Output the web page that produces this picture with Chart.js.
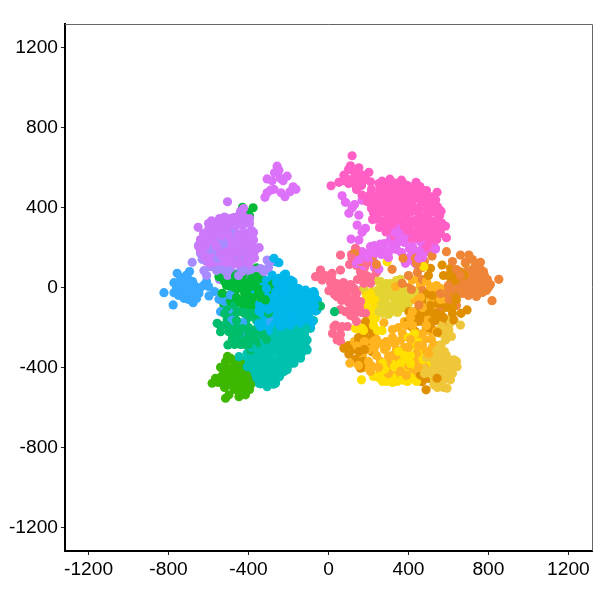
<!DOCTYPE html>
<html>
<head>
<meta charset="utf-8">
<script src="https://cdn.jsdelivr.net/npm/chart.js@4/dist/chart.umd.min.js"></script>
<style>
    body { margin: 0; background: #fff; }
    canvas { display: block; }
</style>
</head>
<body>
<canvas id="tsne" width="600" height="600"></canvas>
<script>
const tickValues = [-1200, -800, -400, 0, 400, 800, 1200];

// clusters as [x, y]
const bluePurple = [[-682,126],[-632,141],[-623,84],[-590,104],[-523,87],[-473,129],[-440,87],[-307,137],[-323,79],[-290,130],[-640,190],[-600,200],[-565,230],[-530,250],[-495,230],[-580,170],[-540,190],[-510,170],[-470,190],[-600,140],[-555,145],[-505,130],[-450,150],[-560,265],[-525,215],[-480,270],[-420,100],[-555,100],[-490,100],[-505,60],[-610,60],[-545,40],[-450,60],[-640,170],[-650,210],[-620,160],[-590,190],[-560,215],[-530,225],[-500,200],[-550,175],[-520,160],[-480,175],[-470,215],[-560,85],[-530,110],[-500,95],[-470,70],[-430,80],[-400,65],[-370,85],[-340,95],[-300,100]];
const violet = [[-585,334],[-545,345],[-520,352],[-475,350],[-440,380],[-425,395],[-410,350],[-455,330],[-500,325],[-540,315],[-570,300],[-600,290],[-620,255],[-640,230],[-650,205],[-610,225],[-580,260],[-545,280],[-510,290],[-470,300],[-430,310],[-395,320],[-385,285],[-375,275],[-415,270],[-450,265],[-485,255],[-520,245],[-560,205],[-600,180],[-630,170],[-590,150],[-540,170],[-495,210],[-455,225],[-420,235],[-385,240],[-395,205],[-430,190],[-465,180],[-500,160],[-540,135],[-465,140],[-430,150],[-395,165],[-370,180],[-385,140],[-420,125],[-470,120],[-520,105],[-560,120],[-610,130],[-652,301],[-505,429],[-347,199],[-398,101],[-500,260],[-440,215],[-410,180],[-600,320],[-565,325],[-530,330],[-495,345],[-455,355],[-425,355],[-395,345],[-430,335],[-465,322],[-510,305],[-625,270],[-595,272],[-565,268],[-535,265],[-505,272],[-475,275],[-440,268],[-405,272],[-380,265],[-640,240],[-605,245],[-575,238],[-545,242],[-510,238],[-475,245],[-445,240],[-410,242],[-375,238],[-645,212],[-615,208],[-585,214],[-550,210],[-515,205],[-480,212],[-450,208],[-415,214],[-380,208],[-640,182],[-610,178],[-575,185],[-545,180],[-515,176],[-480,184],[-445,178],[-415,182],[-385,176],[-620,150],[-585,155],[-555,148],[-525,152],[-490,146],[-455,155],[-425,148],[-400,152],[-370,148],[-590,122],[-550,118],[-510,125],[-445,118],[-400,122]];
const orchid = [[-257,607],[-270,574],[-248,587],[-307,543],[-282,534],[-240,546],[-207,557],[-227,534],[-290,487],[-307,474],[-273,491],[-318,451],[-237,474],[-218,454],[-193,479],[-177,504],[-163,491]];
const blue = [[-757,71],[-710,62],[-695,80],[-773,24],[-740,21],[-715,29],[-673,12],[-623,12],[-823,-26],[-773,-26],[-732,-29],[-690,-37],[-677,-76],[-723,-54],[-777,-87],[-648,-29],[-598,-42],[-548,-59],[-540,-121],[-610,30],[-710,-5],[-750,-10],[-680,-10],[-473,-109],[-490,-37],[-482,-163],[-348,12],[-365,-246],[-440,-225],[-290,-170],[-500,-110],[-400,-60],[-430,-175],[-740,50],[-700,40],[-680,30],[-760,0],[-725,0],[-700,-30],[-660,-55],[-700,-60],[-640,0],[-600,5],[-570,-20],[-750,-40],[-520,-70]];
const skyBlue = [[-282,62],[-215,67],[-177,29],[-248,46],[-115,-13],[-157,-38],[-65,-54],[-57,-112],[-90,-87],[-123,-79],[-173,-79],[-223,-29],[-257,-13],[-323,-29],[-365,-29],[-290,-79],[-240,-87],[-190,-129],[-148,-154],[-115,-146],[-82,-171],[-90,-196],[-265,-129],[-307,-163],[-340,-196],[-273,-188],[-232,-154],[-390,-221],[-190,-188],[-323,-129],[-265,129],[-248,124],[-273,146],[-223,62],[-190,37],[-290,0],[-260,25],[-210,10],[-170,-10],[-130,-40],[-205,-60],[-155,-110],[-225,-120],[-260,-60],[-300,-110],[-345,-85],[-200,-155],[-160,-190],[-240,-195],[-300,-215],[-120,-115],[-95,-45],[-75,-20],[-310,35],[-330,30],[-295,28],[-255,35],[-225,30],[-190,5],[-340,0],[-310,-5],[-270,2],[-240,-5],[-205,-8],[-175,5],[-150,-5],[-345,-30],[-300,-32],[-265,-28],[-230,-35],[-195,-30],[-160,-28],[-130,-22],[-100,-35],[-70,-30],[-330,-62],[-290,-55],[-250,-62],[-215,-58],[-180,-65],[-145,-60],[-110,-62],[-75,-58],[-55,-65],[-340,-92],[-310,-88],[-270,-95],[-225,-88],[-195,-92],[-160,-85],[-135,-95],[-105,-90],[-70,-92],[-350,-118],[-300,-125],[-270,-118],[-235,-122],[-205,-115],[-170,-125],[-135,-120],[-100,-125],[-65,-118],[-330,-152],[-290,-148],[-255,-155],[-215,-150],[-175,-155],[-130,-148],[-95,-152],[-350,-180],[-315,-178],[-280,-185],[-240,-178],[-205,-182],[-170,-178],[-125,-182]];
const green = [[-548,54],[-460,62],[-415,54],[-473,29],[-415,21],[-382,12],[-440,-4],[-398,-21],[-357,-4],[-282,12],[-307,-4],[-273,-29],[-315,-62],[-532,-29],[-490,4],[-523,-87],[-448,-71],[-390,-96],[-373,-129],[-360,98],[-465,57],[-410,51],[-332,46],[-430,401],[-377,399],[-395,359],[-405,375],[-510,10],[-450,25],[-420,-25],[-380,-50],[-340,15],[-385,45],[-440,35],[-470,-30],[-405,0],[-365,30],[-420,-50],[-520,30],[-490,35],[-470,0],[-440,10],[-410,-30],[-385,-15],[-350,-30],[-330,-10],[-300,30],[-500,-40],[-460,-50],[-430,-80],[-400,-70],[-365,-85],[-340,-50],[-490,-70],[-450,45],[-395,30],[-430,60],[-360,55]];
const teal = [[-557,-179],[-540,-221],[-498,-221],[-482,-262],[-503,-287],[-440,-254],[-390,-312],[-357,-204],[-332,-229],[-415,-179],[-507,-162],[-465,-129],[-390,-129],[-415,-96],[-507,-96],[-332,-96],[-457,-204],[-390,-246],[-282,-312],[-340,-312],[-40,-93],[30,-121],[-173,-129],[-420,-285],[-460,-165],[-360,-165],[-420,-130],[-540,-60],[-310,-260],[-350,-270],[-415,-230],[-470,-285],[-540,-190],[-510,-190],[-480,-200],[-450,-180],[-430,-205],[-400,-200],[-370,-230],[-480,-240],[-445,-225],[-410,-265],[-375,-255],[-440,-285],[-400,-285],[-360,-300],[-320,-260],[-500,-130],[-470,-90],[-440,-120],[-400,-150],[-350,-130],[-300,-130],[-520,-130]];
const turquoise = [[-90,-162],[-75,-165],[-90,-204],[-107,-263],[-107,-312],[-140,-354],[-173,-379],[-207,-412],[-265,-479],[-307,-496],[-348,-479],[-373,-446],[-407,-396],[-448,-346],[-407,-329],[-357,-346],[-307,-362],[-257,-379],[-323,-412],[-273,-429],[-315,-454],[-232,-346],[-190,-329],[-157,-296],[-140,-254],[-165,-212],[-207,-229],[-240,-279],[-282,-271],[-323,-287],[-373,-287],[-198,-287],[-290,-321],[-123,-229],[-173,-263],[-215,-179],[-257,-212],[-307,-237],[-230,-400],[-290,-440],[-350,-420],[-385,-370],[-340,-380],[-275,-390],[-215,-365],[-180,-340],[-250,-320],[-215,-250],[-350,-320],[-320,-480],[-285,-465],[-245,-445],[-150,-320],[-125,-285],[-260,-250],[-340,-250],[-385,-300],[-240,-212],[-200,-208],[-150,-214],[-110,-206],[-330,-242],[-290,-238],[-250,-244],[-205,-238],[-170,-242],[-120,-236],[-360,-272],[-320,-268],[-290,-274],[-250,-268],[-210,-272],[-170,-268],[-130,-274],[-390,-302],[-350,-298],[-310,-304],[-270,-298],[-230,-302],[-190,-298],[-150,-304],[-115,-298],[-400,-332],[-365,-328],[-325,-334],[-285,-328],[-245,-332],[-205,-328],[-165,-334],[-135,-328],[-410,-362],[-375,-358],[-335,-364],[-295,-358],[-255,-362],[-215,-358],[-175,-364],[-395,-392],[-355,-388],[-315,-394],[-280,-388],[-240,-392],[-200,-388],[-380,-422],[-340,-418],[-300,-424],[-260,-418],[-225,-422],[-360,-452],[-320,-448],[-280,-454],[-250,-448],[-340,-482],[-300,-478],[-275,-484]];
const olive = [[-490,-354],[-515,-371],[-540,-399],[-498,-404],[-415,-401],[-457,-412],[-482,-437],[-565,-454],[-582,-479],[-532,-471],[-498,-487],[-465,-496],[-423,-462],[-390,-487],[-407,-512],[-448,-546],[-415,-537],[-515,-554],[-498,-537],[-382,-462],[-440,-504],[-470,-375],[-450,-440],[-510,-440],[-410,-470],[-480,-470],[-505,-345],[-435,-530],[-395,-510],[-540,-450],[-525,-420],[-470,-410],[-440,-420],[-500,-460],[-450,-475],[-470,-510],[-430,-490],[-410,-440],[-520,-500],[-550,-475],[-400,-460],[-440,-380],[-520,-400]];
const salmon = [[60,162],[118,146],[135,196],[60,87],[18,71],[-40,87],[168,87],[10,24],[60,-4],[102,-12],[127,-4],[160,79],[177,21],[210,21],[43,-46],[85,-37],[143,-79],[85,-121],[35,-188],[68,-196],[127,-146],[185,-129],[43,-262],[135,-46],[160,-70],[-32,37],[-65,54],[-40,79],[2,-16],[27,-196],[105,-55],[60,-30],[30,-10],[110,15],[140,110],[165,60],[110,-110],[140,-120],[95,-195],[60,-270],[210,50],[240,75],[15,45],[40,20],[75,25],[85,0],[30,-35],[65,-65],[100,-75],[130,-90],[155,-100],[60,-110],[110,-140],[140,-170],[60,-200],[20,-230],[60,-235],[190,60],[145,40],[180,100],[140,-30],[170,-10],[150,150],[115,165],[190,120],[105,115],[-15,60],[165,-125]];
const hotPink = [[118,659],[110,609],[152,599],[202,576],[77,562],[52,526],[13,509],[127,546],[168,562],[135,512],[177,537],[210,529],[168,462],[268,532],[307,542],[365,537],[438,526],[468,487],[543,476],[510,454],[563,382],[585,307],[590,249],[535,196],[193,430],[215,395],[230,455],[245,360],[260,500],[270,420],[285,465],[295,385],[305,510],[320,440],[330,350],[340,480],[350,405],[365,505],[375,455],[385,365],[395,510],[405,425],[415,480],[425,325],[430,390],[445,450],[455,350],[465,415],[480,300],[490,455],[500,375],[510,330],[520,420],[530,270],[540,390],[445,280],[395,290],[350,310],[300,320],[255,300],[220,340],[545,340],[555,300],[500,250],[470,260],[420,240],[490,200],[440,510],[395,470],[345,440],[290,430],[250,400],[385,400],[100,590],[150,540],[252,520],[292,512],[333,522],[382,515],[422,498],[457,505],[215,490],[258,482],[300,495],[342,500],[376,488],[410,492],[452,478],[490,485],[205,462],[246,455],[285,448],[325,465],[360,458],[402,452],[440,468],[478,462],[522,452],[207,430],[236,426],[272,438],[310,425],[352,435],[390,428],[426,440],[466,432],[500,428],[536,438],[217,402],[250,410],[286,398],[322,405],[357,395],[396,408],[432,398],[470,402],[512,408],[547,402],[226,372],[266,378],[302,365],[340,375],[376,368],[412,378],[450,372],[492,365],[526,378],[556,360],[242,342],[281,335],[316,345],[356,338],[391,345],[426,335],[466,342],[506,338],[536,320],[272,312],[306,305],[342,318],[376,308],[416,315],[452,305],[491,312],[526,300],[566,322],[288,278],[326,285],[402,282],[441,275],[480,285],[516,272],[552,268],[332,252],[372,258],[411,250],[456,248],[502,232],[541,240],[560,275],[90,545],[130,575],[100,520],[140,490],[165,510],[185,560],[75,535]];
const magenta = [[68,459],[85,426],[118,399],[102,371],[168,437],[152,362],[143,312],[185,296],[168,276],[113,242],[152,237],[318,262],[360,296],[393,246],[460,229],[510,212],[535,192],[260,217],[210,204],[168,179],[152,137],[235,171],[318,196],[393,146],[452,146],[252,92],[385,121],[443,112],[345,225],[405,195],[440,175],[285,180],[195,150],[130,415],[470,195],[365,175],[335,275],[425,245],[230,210],[495,180],[205,175],[300,150],[430,125],[250,200],[280,220],[310,240],[345,260],[380,225],[420,205],[455,180],[490,215],[525,215],[300,175],[340,190],[375,145],[415,160],[470,150],[200,130],[175,110],[225,130],[265,165],[140,120],[170,150],[230,100],[360,255],[320,225],[395,270],[435,250]];
const orange = [[852,41],[818,-66],[760,126],[745,95],[660,60],[690,80],[730,70],[780,60],[810,15],[675,20],[690,-15],[750,-10],[720,15],[785,25],[760,40],[700,40],[645,-5],[725,-25],[790,-15],[590,179],[660,162],[702,162],[518,157],[443,179],[435,146],[373,146],[685,126],[435,-21],[452,-88],[602,-12],[610,-79],[627,-38],[368,21],[318,91],[445,75],[470,40],[160,130],[130,170],[220,155],[175,55],[240,115],[400,60],[665,30],[680,50],[700,20],[715,45],[735,30],[750,55],[770,35],[795,40],[710,-10],[735,-5],[760,10],[775,-5],[680,0],[650,20],[670,-30],[700,-40],[740,-45],[770,-25],[800,0],[720,90],[760,90],[735,110],[775,80],[700,70],[745,75],[600,60],[640,90],[620,130],[720,140],[480,130],[440,120],[470,100],[435,-50],[470,-15],[560,-30],[590,-50],[640,-90],[400,0],[415,-10],[600,10],[560,-95]];
const darkOrange = [[510,96],[568,112],[610,96],[685,121],[677,62],[635,37],[600,-30],[693,-112],[663,-129],[627,-162],[402,-121],[468,-71],[493,-29],[527,-129],[577,-62],[435,-221],[185,-171],[218,-221],[177,-237],[127,-279],[77,-304],[102,-334],[160,-404],[218,-321],[152,-321],[460,-438],[468,-471],[488,-512],[543,-454],[427,-163],[480,-140],[560,-110],[620,-130],[515,-205],[450,-110],[530,-60],[590,-100],[610,20],[585,-185],[540,-165],[575,-150],[150,-280],[195,-290],[630,50],[575,60],[500,60],[480,-175],[480,-40],[510,-90],[550,-80],[470,-100],[440,-140],[500,-120],[540,-130],[565,-140],[600,-70],[620,-100],[520,-170],[490,-200],[450,-170],[420,-200],[460,-70],[400,-170],[560,-35],[640,-60],[650,-20],[655,80],[620,75],[600,60],[200,-260],[165,-295],[120,-310],[180,-310],[135,-360],[175,-370],[230,-250],[195,-205],[150,-250],[100,-290],[440,-260],[520,-40],[480,-120],[470,-450],[500,-455],[545,-225]];
const gold = [[107,-379],[143,-293],[277,-176],[460,12],[510,4],[560,-4],[585,-71],[515,-71],[335,4],[418,37],[320,-210],[370,-230],[410,-260],[470,-230],[515,-260],[540,-290],[500,-330],[440,-330],[380,-300],[330,-280],[280,-310],[240,-340],[200,-370],[170,-340],[250,-400],[300,-380],[350,-350],[400,-390],[450,-290],[490,-190],[480,-400],[420,-430],[360,-420],[300,-430],[390,-190],[460,-340],[225,-270],[360,-265],[420,-120],[530,-25],[470,-100],[200,-310],[230,-300],[260,-280],[290,-270],[320,-250],[350,-200],[380,-170],[420,-190],[440,-230],[480,-260],[510,-220],[400,-300],[430,-370],[380,-330],[340,-310],[300,-345],[260,-370],[220,-395],[180,-400],[150,-390],[210,-420],[250,-440],[340,-430],[390,-440],[450,-400],[490,-320],[520,-300],[470,-290],[540,-220],[500,-160],[510,-50],[460,-50],[540,-20],[490,30],[450,40],[540,10],[430,-60],[590,-30],[550,-100],[560,-60],[410,-150],[320,-340],[290,-300],[240,-260],[180,-270],[130,-270]];
const yellow = [[165,-462],[293,-446],[260,-429],[345,-470],[395,-470],[360,-380],[393,-300],[427,-400],[268,-216],[235,-154],[227,-104],[152,-204],[168,-204],[210,-29],[135,-121],[293,129],[477,104],[230,-60],[205,-170],[470,-330],[410,-340],[320,-450],[370,-440],[430,-450],[330,-395],[445,-270],[390,-355],[410,-420],[280,-410],[290,-470],[320,-475],[350,-445],[380,-465],[410,-450],[440,-470],[250,-450],[270,-470],[225,-445],[340,-400],[370,-410],[410,-380],[440,-360],[450,-330],[430,-290],[400,-250],[380,-340],[340,-370],[300,-400],[270,-380],[260,-440],[200,-150],[190,-195],[225,-190],[245,-215],[215,-130],[240,-120],[175,-215],[135,-205],[185,-100],[200,-70],[190,-40],[470,-360],[490,-380],[460,-300],[430,-230],[350,-320]];
const khaki = [[177,-9],[260,29],[360,41],[227,-37],[252,-121],[318,-4],[293,-46],[343,-21],[377,-79],[335,-112],[285,-79],[360,-46],[410,-37],[310,-96],[260,-29],[235,-79],[360,-104],[300,-10],[270,-60],[330,-60],[390,-20],[290,20],[220,-20],[250,-10],[280,0],[310,20],[340,10],[370,0],[395,-40],[420,-50],[230,-60],[255,-90],[285,-100],[315,-120],[345,-125],[270,-130],[300,-135],[330,-90],[380,-60],[400,-80],[320,-30],[350,-75],[250,-55],[210,-40],[270,-25],[240,35],[340,35],[375,-100],[430,-20]];
const sand = [[660,-188],[585,-262],[563,-287],[593,-163],[568,-196],[602,-212],[560,-230],[585,-237],[540,-320],[627,-362],[643,-396],[610,-462],[593,-504],[527,-487],[552,-470],[493,-396],[527,-362],[577,-362],[602,-396],[543,-412],[510,-429],[577,-429],[527,-446],[585,-380],[490,-350],[560,-340],[620,-430],[555,-445],[480,-430],[610,-175],[500,-360],[520,-400],[550,-380],[580,-400],[600,-440],[620,-400],[640,-370],[570,-470],[540,-430],[510,-400],[490,-420],[530,-470],[590,-340],[560,-390],[600,-360],[470,-400],[460,-370],[520,-330],[550,-310],[580,-320],[575,-180],[600,-190],[590,-225],[555,-210],[615,-245],[575,-500],[545,-500]];

const seriesPoints = [violet, bluePurple, orchid, green, skyBlue, teal, turquoise, olive, blue, hotPink, magenta, salmon, orange, gold, yellow, darkOrange, khaki, sand];
const seriesColors = ['#cb78fb', '#a88bff', '#dc71fa', '#00ba38', '#00b6eb', '#00bd6c', '#00c0af', '#3db700', '#39a9ff', '#ff5fc5', '#e76bf3', '#ff6c91', '#ee8537', '#ffb41f', '#ffe000', '#e08f00', '#e4d433', '#f0c63a'];

// the original plots its points in shuffled order, so split every cluster
// over a few layers and the colours mix where clusters overlap
const layerCount = 4;
const datasets = [];
for (let layer = 0; layer < layerCount; layer++) {
    seriesPoints.forEach((pts, i) => {
        datasets.push({
            data: pts.filter((p, n) => n % layerCount === layer).map(p => ({ x: p[0], y: p[1] })),
            backgroundColor: seriesColors[i],
            pointRadius: 4.6,
            borderWidth: 0
        });
    });
}

// gray frame on the top and right sides of the panel
const panelFrame = {
    id: 'panelFrame',
    afterDraw(chart) {
        const { ctx, chartArea: a } = chart;
        ctx.save();
        ctx.strokeStyle = '#666';
        ctx.lineWidth = 1;
        ctx.beginPath();
        ctx.moveTo(a.left, a.top + 0.5);
        ctx.lineTo(a.right + 0.5, a.top + 0.5);
        ctx.lineTo(a.right + 0.5, a.bottom);
        ctx.stroke();
        ctx.restore();
    }
};

function axisOptions() {
    return {
        min: -1318,
        max: 1318,
        afterBuildTicks: axis => { axis.ticks = tickValues.map(v => ({ value: v })); },
        grid: { drawOnChartArea: false, color: '#222', tickLength: 4, tickWidth: 1 },
        border: { color: '#000', width: 2 },
        ticks: {
            autoSkip: false,
            maxRotation: 0,
            color: '#000',
            padding: 3,
            font: { family: '"Liberation Sans"', size: 19.2 },
            callback: v => String(v)
        }
    };
}

const xAxis = axisOptions();
xAxis.afterFit = axis => { axis.height = 49; };
const yAxis = axisOptions();
yAxis.afterFit = axis => { axis.width = 65; };

new Chart(document.getElementById('tsne').getContext('2d'), {
    type: 'scatter',
    data: { datasets },
    options: {
        responsive: false,
        animation: false,
        layout: { padding: { top: 24, right: 8, left: 0, bottom: 0 } },
        plugins: { legend: { display: false }, tooltip: { enabled: false } },
        scales: { x: xAxis, y: yAxis }
    },
    plugins: [panelFrame]
});
</script>
</body>
</html>
